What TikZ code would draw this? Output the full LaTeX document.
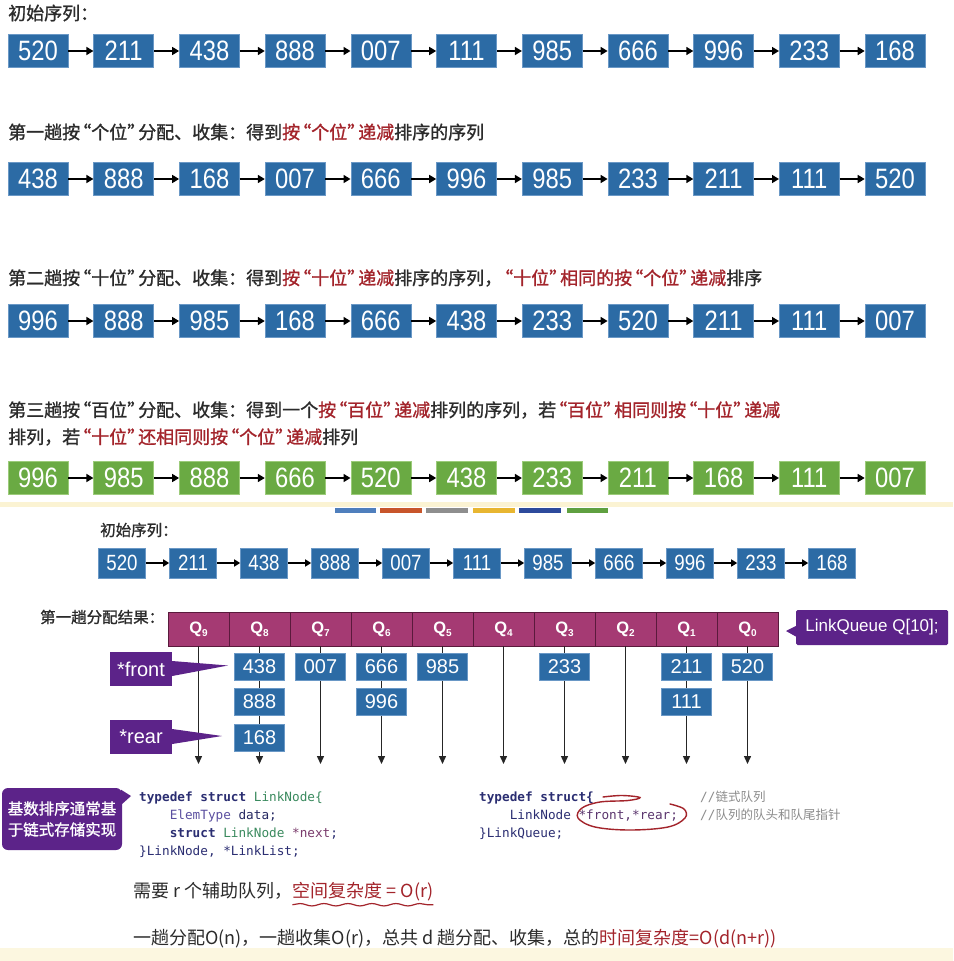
\documentclass[tikz,border=0pt]{standalone}
\usepackage{fontspec}
\usetikzlibrary{arrows.meta,decorations.pathmorphing}
\setmainfont{Liberation Sans}
\newfontfamily\cjk{Noto Sans CJK SC}
\newfontfamily\cjkb{Noto Sans CJK SC}[FakeBold=1.2]
\newfontfamily\numf{Liberation Sans}[FakeStretch=0.85]
\newfontfamily\codef{DejaVu Sans Mono}
\newcommand\oqt{\makebox[11pt][r]{“}}
\newcommand\cqt{\makebox[11pt][l]{”}}
\definecolor{bblue}{HTML}{2C6BA5}
\definecolor{bblueb}{HTML}{6A98C6}
\definecolor{bgreen}{HTML}{6AAA43}
\definecolor{bgreenb}{HTML}{9CCB7A}
\definecolor{dred}{HTML}{A3242B}
\definecolor{tgray}{HTML}{2B2B2B}
\definecolor{cpurple}{HTML}{5C2389}
\definecolor{qmag}{HTML}{A53A73}
\definecolor{qdiv}{HTML}{5A1A3C}
\definecolor{kw}{HTML}{2B2E72}
\definecolor{tyg}{HTML}{3A8A5E}
\definecolor{typ}{HTML}{5B4FA0}
\definecolor{ptr}{HTML}{7A3B6C}
\definecolor{cmt}{HTML}{8C8C8C}
\definecolor{sepyel}{HTML}{FBF3D3}
\definecolor{botyel}{HTML}{FCF7E0}
\definecolor{cb1}{HTML}{4F7FBD}
\definecolor{cb2}{HTML}{C8552A}
\definecolor{cb3}{HTML}{8E8E8E}
\definecolor{cb4}{HTML}{E8B631}
\definecolor{cb5}{HTML}{2D4A9C}
\definecolor{cb6}{HTML}{5FA040}
\tikzset{
  bigbox/.style={draw=bblueb, line width=0.6pt, fill=bblue, minimum width=60pt, minimum height=33pt, inner sep=0pt, text=white, font=\numf\fontsize{28}{28}\selectfont},
  greenbox/.style={bigbox, fill=bgreen, draw=bgreenb},
  midbox/.style={bigbox, minimum width=47pt, minimum height=30pt, font=\numf\fontsize{22}{22}\selectfont},
  qbox/.style={bigbox, minimum width=50pt, minimum height=27pt, font=\fontsize{20}{20}\selectfont},
  link/.style={line width=1.6pt, -{Triangle[length=7pt,width=8pt]}},
  slink/.style={line width=1.4pt, -{Triangle[length=6pt,width=7pt]}},
  qarrow/.style={line width=1.4pt, draw=black!85, -{Triangle[length=8pt,width=7pt]}},
  title/.style={anchor=west, inner sep=0pt, text=tgray, font=\cjkb\fontsize{18}{18}\selectfont},
  stitle/.style={anchor=west, inner sep=0pt, text=tgray, font=\cjkb\fontsize{15.5}{15.5}\selectfont},
  qcell/.style={draw=qdiv, line width=0.8pt, fill=qmag, minimum width=61pt, minimum height=34pt, inner sep=0pt, text=white, font=\bfseries\fontsize{16.5}{16.5}\selectfont},
  pbox/.style={fill=cpurple, inner sep=0pt, text=white},
  code/.style={anchor=base west, inner sep=0pt, font=\codef\fontsize{12.7}{12.7}\selectfont, text=kw},
  body/.style={anchor=base west, inner sep=0pt, text=tgray, font=\cjk\fontsize{18}{18}\selectfont},
}
\begin{document}
\begin{tikzpicture}[x=1pt,y=-1pt]
\fill[white] (0,0) rectangle (953,961);
\path[use as bounding box] (0,0) rectangle (953,961);
% separators
\fill[fill=sepyel] (0,502) rectangle (953,507);
\fill[fill=botyel] (0,948) rectangle (953,961);
\fill[cb1] (335,508) rectangle (376,513);
\fill[cb2] (380,508) rectangle (422,513);
\fill[cb3] (426,508) rectangle (468,513);
\fill[cb4] (473,508) rectangle (515,513);
\fill[cb5] (519,508) rectangle (561,513);
\fill[cb6] (567,508) rectangle (608,513);

% ---------- row 1
\node[title] (t1) at (8,13) {初始序列：};
\foreach \v [count=\i from 0] in {520,211,438,888,007,111,985,666,996,233,168}
  \node[bigbox] (a\i) at ({38+85.7*\i},51) {\v};
\foreach \i [evaluate=\i as \j using int(\i+1)] in {0,...,9}
  \draw[link] (a\i) -- (a\j);

% ---------- row 2
\node[title] (t2) at (8,132) {第一趟按\oqt 个位\cqt 分配、收集：得到\textcolor{dred}{按\oqt 个位\cqt 递减}排序的序列};
\foreach \v [count=\i from 0] in {438,888,168,007,666,996,985,233,211,111,520}
  \node[bigbox] (b\i) at ({38+85.7*\i},179) {\v};
\foreach \i [evaluate=\i as \j using int(\i+1)] in {0,...,9}
  \draw[link] (b\i) -- (b\j);

% ---------- row 3
\node[title] (t3) at (8,278) {第二趟按\oqt 十位\cqt 分配、收集：得到\textcolor{dred}{按\oqt 十位\cqt 递减}排序的序列，\textcolor{dred}{\oqt 十位\cqt 相同的按\oqt 个位\cqt 递减}排序};
\foreach \v [count=\i from 0] in {996,888,985,168,666,438,233,520,211,111,007}
  \node[bigbox] (c\i) at ({38+85.7*\i},321) {\v};
\foreach \i [evaluate=\i as \j using int(\i+1)] in {0,...,9}
  \draw[link] (c\i) -- (c\j);

% ---------- row 4
\node[title] (t4a) at (8,410) {第三趟按\oqt 百位\cqt 分配、收集：得到一个\textcolor{dred}{按\oqt 百位\cqt 递减}排列的序列，若\textcolor{dred}{\oqt 百位\cqt 相同则按\oqt 十位\cqt 递减}};
\node[title] (t4b) at (8,437) {排列，若\textcolor{dred}{\oqt 十位\cqt 还相同则按\oqt 个位\cqt 递减}排列};
\foreach \v [count=\i from 0] in {996,985,888,666,520,438,233,211,168,111,007}
  \node[greenbox] (d\i) at ({38+85.7*\i},478) {\v};
\foreach \i [evaluate=\i as \j using int(\i+1)] in {0,...,9}
  \draw[link] (d\i) -- (d\j);

% ---------- middle initial sequence
\node[stitle] (t5) at (100,530) {初始序列：};
\foreach \v [count=\i from 0] in {520,211,438,888,007,111,985,666,996,233,168}
  \node[midbox] (m\i) at ({122+71*\i},563) {\v};
\foreach \i [evaluate=\i as \j using int(\i+1)] in {0,...,9}
  \draw[slink] (m\i) -- (m\j);

% ---------- queue array
\node[stitle] (t6) at (40,617) {第一趟分配结果：};
\foreach \k in {0,...,9}{
  \pgfmathtruncatemacro\n{9-\k}
  \node[qcell] (q\n) at ({198.5+61*\k},629) {Q\raisebox{-3pt}{\fontsize{10}{10}\selectfont\n}};
}
\coordinate (qend) at (0,764);
\foreach \n in {0,...,9}
  \draw[qarrow] (q\n.south) -- (q\n.south |- qend);

\node[qbox] (e8a) at (259.5,666.5) {438};
\node[qbox] (e8b) at (259.5,701.5) {888};
\node[qbox] (e8c) at (259.5,737.5) {168};
\node[qbox] (e7a) at (320.5,666.5) {007};
\node[qbox] (e6a) at (381.5,666.5) {666};
\node[qbox] (e6b) at (381.5,701.5) {996};
\node[qbox] (e5a) at (442.5,666.5) {985};
\node[qbox] (e3a) at (564.5,666.5) {233};
\node[qbox] (e1a) at (686.5,666.5) {211};
\node[qbox] (e1b) at (686.5,701.5) {111};
\node[qbox] (e0a) at (747.5,666.5) {520};

% callouts
\node[pbox, minimum width=62pt, minimum height=34pt, font=\fontsize{20}{20}\selectfont] (front) at (141,669) {*front};
\fill[cpurple] ([yshift=8pt]front.east) -- (228,665.5) -- ([yshift=-7pt]front.east) -- cycle;
\node[pbox, minimum width=62pt, minimum height=34pt, font=\fontsize{20}{20}\selectfont] (rear) at (141,737) {*rear};
\fill[cpurple] ([yshift=8pt]rear.east) -- (222,736) -- ([yshift=-7pt]rear.east) -- cycle;
\node[pbox, minimum width=152pt, minimum height=35pt, rounded corners=1.5pt, font=\fontsize{17}{17}\selectfont] (lq) at (872,627.5) {LinkQueue Q[10];};
\fill[cpurple] ([yshift=1.5pt]lq.west) -- (786,631) -- ([yshift=-9pt]lq.west) -- cycle;
\node[pbox, minimum width=120pt, minimum height=62pt, rounded corners=6pt, align=left, font=\cjkb\fontsize{15.5}{21}\selectfont] (note) at (62,819) {基数排序通常基\\于链式存储实现};
\fill[cpurple] ([yshift=-2pt,xshift=-1pt]note.north east) -- (131,796) -- ([yshift=-17pt,xshift=-1pt]note.north east) -- cycle;

% code block 1
\node[code] (k1) at (139,801.5) {\textcolor{kw}{\bfseries typedef struct} \textcolor{tyg}{LinkNode\{}};
\node[code] (k2) at (139,819.5) {\phantom{xxxx}\textcolor{typ}{ElemType} \textcolor{kw!85!black}{data;}};
\node[code] (k3) at (139,837.5) {\phantom{xxxx}\textcolor{kw}{\bfseries struct} \textcolor{tyg}{LinkNode} \textcolor{ptr}{*next};};
\node[code] (k4) at (139,855.5) {\}LinkNode, *LinkList;};
% code block 2
\node[code] (k5) at (479,801.5) {\bfseries typedef struct\{};
\node[code] (k6) at (479,819.5) {\phantom{xxxx}LinkNode \textcolor{ptr!60!kw}{*front,*rear;}};
\node[code] (k7) at (479,837.5) {\}LinkQueue;};
\node[code, text=cmt] (k8) at (700,801.5) {//{\cjk\fontsize{12.5}{12.5}\selectfont 链式队列}};
\node[code, text=cmt] (k9) at (700,819.5) {//{\cjk\fontsize{12.5}{12.5}\selectfont 队列的队头和队尾指针}};
\draw[dred, line width=1.4pt, line cap=round] plot[smooth, tension=0.6] coordinates {(603,797) (622,795.5) (640,797.5) (628,800.5) (600,802) (582,808) (578,818) (595,827) (630,830) (668,827) (685,818) (684,809) (670,804)};

% bottom text
\node[body] (s1) at (133,897) {需要 r 个辅助队列，};
\node[body, text=dred] (s2) at (s1.base east) {空间复杂度 = O(r)};
\draw[dred, line width=1.2pt, decorate, decoration={snake, amplitude=1.2pt, segment length=24pt}] ([yshift=-4pt]s2.south west) -- ([yshift=-4pt]s2.south east);
\node[body] (s3) at (133,944) {一趟分配O(n)，一趟收集O(r)，总共 d 趟分配、收集，总的};
\node[body, text=dred] (s4) at (s3.base east) {时间复杂度=O(d(n+r))};
\end{tikzpicture}
\end{document}
